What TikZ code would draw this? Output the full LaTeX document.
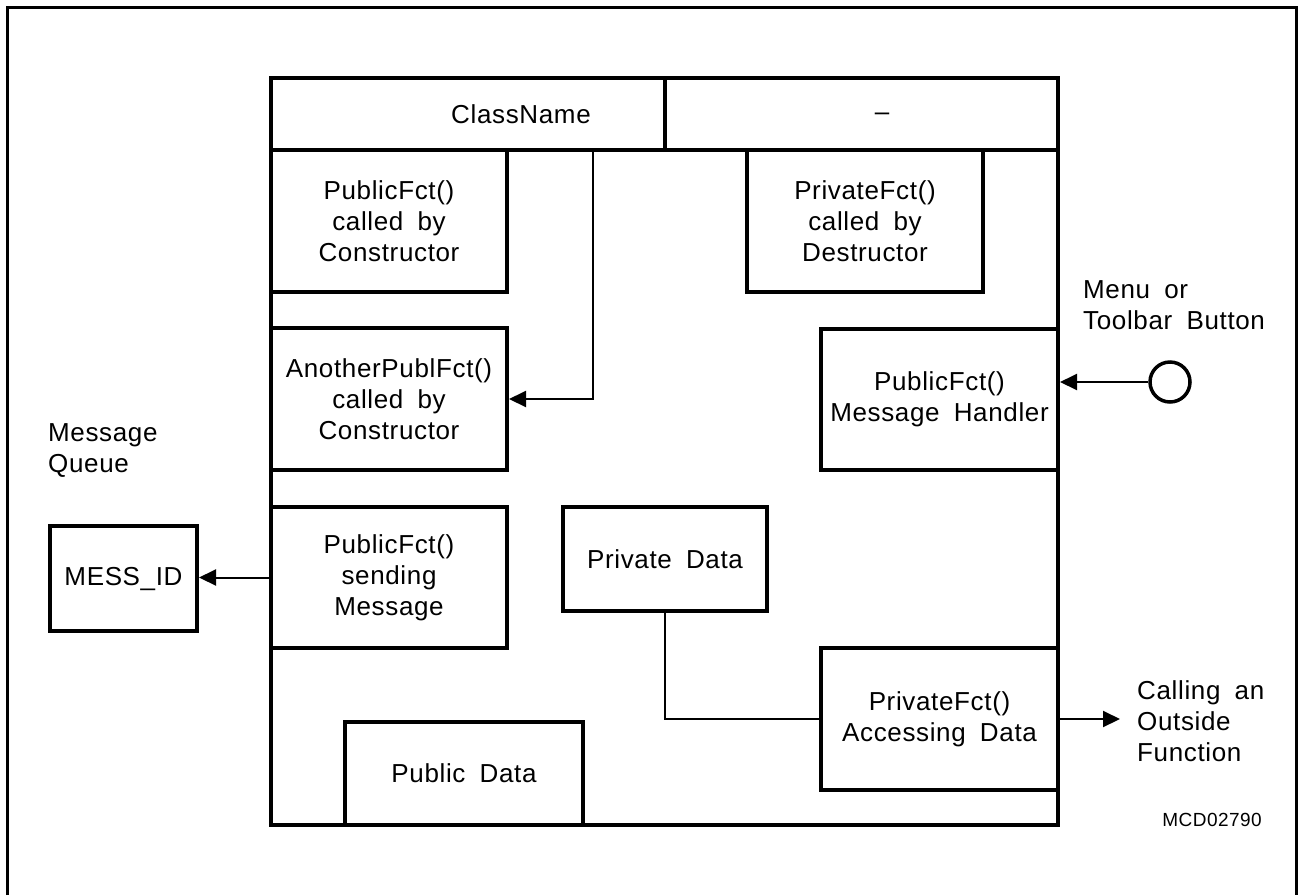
\documentclass[tikz,border=0pt]{standalone}
\usepackage{fontspec}
\setmainfont[LetterSpace=2.5,WordSpace=1.8]{Liberation Sans}
\usetikzlibrary{arrows.meta}
\begin{document}
\begin{tikzpicture}[x=1pt,y=-1pt,
  every node/.style={font=\fontsize{26}{31}\selectfont, inner sep=0pt},
  box/.style={draw, line width=4pt, align=center, minimum width=236pt, minimum height=142pt},
  conn/.style={line width=2pt},
  arr/.style={conn, -{Triangle[length=17pt,width=16pt]}},
  lbl/.style={align=left, anchor=west}]
\useasboundingbox (0,0) rectangle (1298,895);
% outer frame
\draw[line width=3pt] (7,895) -- (7,7) -- (1296,7) -- (1296,895);
% class box
\node[draw, line width=4pt, minimum width=787pt, minimum height=747pt] (cls) at (664.5,451.5) {};
\draw[line width=4pt] (271,150) -- (1058,150);
\draw[line width=4pt] (665,78) -- (665,150);
\node (cname) at (521,114) {ClassName};
\node (dash) at (882,117) {--};
% inner boxes
\node[box] (pc) at (389,221) {PublicFct()\\called by\\Constructor};
\node[box] (pd) at (865,221) {PrivateFct()\\called by\\Destructor};
\node[box] (ap) at (389,399) {AnotherPublFct()\\called by\\Constructor};
\node[box, minimum width=237pt, minimum height=141pt] (mh) at (939.5,399.5) {PublicFct()\\Message Handler};
\node[box, minimum height=141pt] (sm) at (389,577.5) {PublicFct()\\sending\\Message};
\node[box, minimum width=147pt, minimum height=105pt] (mess) at (123.5,578.5) {MESS\_ID};
\node[box, minimum width=204pt, minimum height=104pt] (prd) at (665,559) {Private Data};
\node[box, minimum width=237pt] (ad) at (939.5,719) {PrivateFct()\\Accessing Data};
\node[box, minimum width=238pt, minimum height=103pt] (pub) at (464,773.5) {Public Data};
% button
\node[draw, circle, line width=3.5pt, minimum size=40pt] (btn) at (1170,382) {};
% labels
\node[lbl] (menu) at (1083,305) {Menu or\\Toolbar Button};
\node[lbl] (mq) at (48,451) {Message\\Queue};
\node[lbl] (call) at (1137,721) {Calling an\\Outside\\Function};
\node[anchor=east, font=\fontsize{19}{22}\selectfont] (mcd) at (1262,820) {MCD02790};
% connectors
\coordinate (c1) at (593,150);
\draw[arr] (c1) |- (ap.east);
\draw[arr] (btn.west) -- (btn.west -| mh.east);
\draw[arr] (sm.west) -- (sm.west -| mess.east);
\draw[conn] (prd.south) |- (ad.west);
\coordinate (out) at (1120,719);
\draw[arr] (ad.east) -- (out);
\end{tikzpicture}
\end{document}
